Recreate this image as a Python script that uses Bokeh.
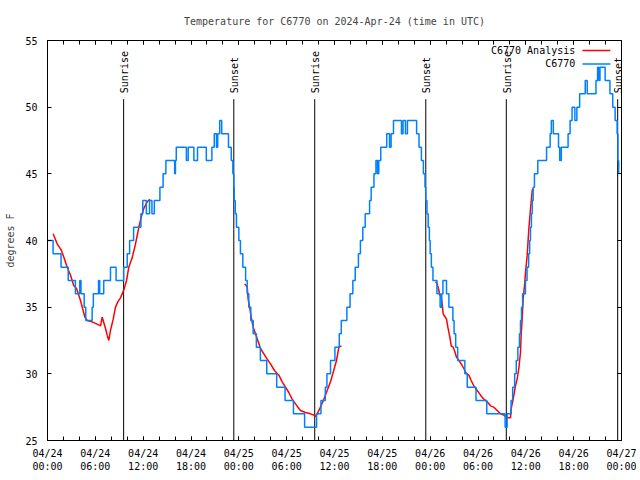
import math
from bokeh.plotting import figure
from bokeh.models import Range1d, FixedTicker, LinearAxis
from bokeh.core.properties import value
from bokeh.embed import file_html
from bokeh.resources import INLINE

FONT = "DejaVu Sans Mono"

# hours since 2024-04-24 00:00 UTC
x_tick_hours = [0, 6, 12, 18, 24, 30, 36, 42, 48, 54, 60, 66, 72]
x_tick_labels = ["04/24\n00:00", "04/24\n06:00", "04/24\n12:00", "04/24\n18:00",
                 "04/25\n00:00", "04/25\n06:00", "04/25\n12:00", "04/25\n18:00",
                 "04/26\n00:00", "04/26\n06:00", "04/26\n12:00", "04/26\n18:00",
                 "04/27\n00:00"]
y_ticks = [25, 30, 35, 40, 45, 50, 55]

# observed station temperature (step changes): start hour, degrees F
obs_hours = [0.0, 0.7, 1.7, 2.6, 3.5, 4.05, 4.2, 4.6, 4.8, 5.6, 5.75, 6.4, 6.55, 7.05, 7.9,
             8.6, 9.55, 10.0, 10.3, 10.8, 11.72, 11.95, 12.4, 12.8, 13.1, 13.4, 14.1, 14.5,
             14.85, 15.95, 16.05, 16.15, 17.42, 17.65, 18.36, 18.82, 19.92, 20.62, 20.92,
             21.2, 21.35, 21.6, 21.85, 22.7, 23.05, 23.25, 23.37, 23.42, 23.55, 23.7, 24.0,
             24.2, 24.5, 24.85, 25.05, 25.25, 25.5, 25.8, 26.2, 26.7, 27.5, 28.75, 29.8,
             30.85, 32.25, 33.75, 34.3, 34.85, 35.05, 35.5, 36.05, 36.6, 36.85, 37.55, 37.95,
             38.3, 38.6, 39.0, 39.25, 39.55, 39.85, 40.4, 40.6, 40.95, 41.2, 41.4, 41.55,
             41.8, 42.55, 42.9, 43.1, 43.4, 44.4, 44.6, 44.9, 45.15, 46.3, 46.6, 46.9, 47.15,
             47.35, 47.45, 47.6, 47.75, 47.9, 48.0, 48.15, 48.35, 48.85, 49.25, 49.45, 49.6,
             50.05, 50.35, 50.85, 51.0, 51.2, 51.45, 52.35, 52.65, 53.75, 55.1, 57.4, 57.65,
             58.15, 58.35, 58.6, 58.8, 59.0, 59.2, 59.33, 59.46, 59.6, 59.95, 60.15, 60.35,
             60.48, 60.58, 60.7, 60.8, 60.92, 61.08, 61.5, 62.6, 63.05, 63.2, 63.45, 64.1,
             64.25, 64.45, 65.3, 65.55, 65.8, 66.15, 66.4, 66.75, 67.45, 67.7, 68.8, 69.0,
             69.15, 69.3, 69.95, 70.55, 70.9, 71.2, 71.45, 71.55, 71.65, 71.7]
obs_temps = [40, 39, 38, 37, 36, 37, 36, 35, 34, 35, 36, 37, 36, 37, 38,
             37, 38, 39, 40, 41, 42, 43, 42, 43, 42, 43, 44, 45,
             46, 45, 46, 47, 46, 47, 46, 47, 46, 47, 48,
             47, 48, 49, 48, 47, 46, 45, 44, 43, 42, 41, 40,
             39, 38, 37, 36, 35, 34, 33, 32, 31, 30, 29, 28,
             27, 26, 27, 28, 29, 30, 31, 32, 33, 34, 35, 36,
             37, 38, 39, 40, 41, 42, 43, 44, 45, 46, 45, 46,
             47, 48, 47, 48, 49, 48, 49, 48, 49, 48, 47, 46, 45,
             44, 43, 42, 41, 40, 39, 38, 37, 36, 35, 36, 37,
             36, 35, 34, 33, 32, 31, 30, 29, 28, 27, 26, 27,
             28, 29, 30, 31, 32, 33, 34, 35, 36, 37, 38, 39,
             40, 41, 42, 43, 44, 45, 46, 47, 48, 49, 48, 47,
             46, 47, 48, 49, 50, 49, 50, 51, 52, 51, 52, 53,
             52, 53, 52, 51, 50, 49, 48, 46, 45, 45]

# analysis temperature (three windows, NaN = gap)
nan = float("nan")
ana_hours = [0.71, 1.21, 1.71, 2.05, 2.47, 2.89, 3.3, 3.64, 4.14, 4.47, 4.68, 4.98, 5.6,
             6.15, 6.65, 6.86, 7.28, 7.49, 7.69, 7.9, 8.24, 8.53, 8.82, 9.16, 9.58, 9.91,
             10.2, 10.62, 11.04, 11.46, 11.75, 12.08, 12.5, 12.84,
             18.0,
             24.75, 25.05, 25.17, 25.38, 25.55, 25.8, 26.09, 26.38, 26.72, 27.14, 27.55,
             27.97, 28.47, 29.02, 29.44, 29.85, 30.27, 30.69, 31.11, 31.53, 31.74, 32.36,
             32.99, 33.41, 33.62, 33.83, 34.24, 34.66, 35.08, 35.5, 35.9, 36.25, 36.55, 36.88,
             42.0,
             48.67, 48.88, 49.09, 49.21, 49.38, 49.51, 49.63, 49.84, 50.05, 50.22, 50.47,
             50.64, 50.89, 51.05, 51.3, 51.6, 51.89, 52.22, 52.56, 52.85, 53.14, 53.48, 53.9,
             54.32, 54.73, 55.15, 55.57, 55.99, 56.41, 56.82, 57.24, 57.58, 57.87, 58.08,
             58.16, 58.41, 58.7, 58.91, 59.12, 59.33, 59.41, 59.54, 59.66, 59.83, 59.96,
             60.17, 60.38, 60.59, 60.8, 60.88]
ana_temps = [40.5, 39.75, 39.3, 38.75, 38.0, 37.4, 36.6, 36.4, 35.5, 34.75, 34.25, 34.0, 33.9,
             33.75, 33.6, 34.25, 33.4, 32.9, 32.5, 33.25, 34.1, 35.0, 35.4, 35.7, 36.3, 37.0,
             38.0, 38.7, 39.75, 41.0, 41.75, 42.4, 42.9, 43.1,
             nan,
             36.75, 36.5, 35.6, 34.9, 34.25, 33.5, 33.0, 32.5, 31.9, 31.5, 31.1,
             30.75, 30.25, 29.9, 29.4, 29.0, 28.6, 28.1, 27.75, 27.4, 27.25, 27.1,
             27.0, 26.9, 26.8, 27.0, 27.5, 28.1, 28.75, 29.4, 30.25, 31.0, 32.0, 32.1,
             nan,
             36.9, 36.75, 36.25, 35.9, 35.75, 35.25, 34.5, 34.3, 34.1, 33.5, 32.75,
             32.1, 32.0, 31.75, 31.25, 31.0, 30.75, 30.4, 30.0, 29.9, 29.5, 29.1, 28.75,
             28.4, 28.1, 27.9, 27.6, 27.5, 27.25, 27.0, 26.9, 26.75, 26.7, 26.7,
             27.4, 28.1, 29.1, 29.6, 30.4, 31.6, 32.9, 34.1, 35.6, 36.6, 37.6,
             38.9, 40.9, 42.4, 43.75, 43.9]

sun_hours = [9.55, 23.37, 33.52, 47.45, 57.55, 71.52]
sun_names = ["Sunrise", "Sunset", "Sunrise", "Sunset", "Sunrise", "Sunset"]

series_names = ["C6770 Analysis", "C6770"]
series_colors = ["#ff0000", "#0080ff"]

p = figure(frame_width=574, frame_height=400,
           min_border_left=47, min_border_right=15, min_border_top=40, min_border_bottom=36,
           x_range=Range1d(0, 72), y_range=Range1d(25, 55),
           output_backend="svg", toolbar_location=None,
           title="Temperature for C6770 on 2024-Apr-24 (time in UTC)")
p.title.align = "center"
p.title.text_font = FONT
p.title.text_font_size = "10px"
p.title.text_font_style = "normal"
p.title.standoff = 27
p.grid.visible = False
p.outline_line_color = "black"
p.outline_line_alpha = 1
p.background_fill_color = "white"
p.border_fill_color = "white"

xt = FixedTicker(ticks=x_tick_hours, minor_ticks=list(range(0, 73, 2)))
yt = FixedTicker(ticks=y_ticks, minor_ticks=[])

def style_axis(ax, labels=True):
    ax.axis_line_color = "black"
    ax.major_tick_line_color = "black"
    ax.minor_tick_line_color = "black"
    ax.major_tick_in = 4
    ax.major_tick_out = 0
    ax.minor_tick_in = 4
    ax.minor_tick_out = 0
    ax.major_label_text_font = FONT
    if labels:
        ax.major_label_text_font_size = "10px"
        ax.major_label_text_color = "black"
    else:
        ax.major_label_text_font_size = "1px"
        ax.major_label_text_color = None
        ax.major_label_standoff = 0

p.xaxis.ticker = xt
p.xaxis.major_label_overrides = {h: lab for h, lab in zip(x_tick_hours, x_tick_labels)}
style_axis(p.xaxis[0])
p.xaxis.major_label_standoff = 7
p.yaxis.ticker = yt
style_axis(p.yaxis[0])
p.yaxis.major_label_standoff = 10
p.yaxis.axis_label = "degrees F"
p.yaxis.axis_label_text_font = FONT
p.yaxis.axis_label_text_font_size = "10px"
p.yaxis.axis_label_text_font_style = "normal"
p.yaxis.axis_label_standoff = 6

top = LinearAxis(ticker=xt)
style_axis(top, labels=False)
p.add_layout(top, "above")
right = LinearAxis(ticker=yt)
style_axis(right, labels=False)
p.add_layout(right, "right")

# sunrise / sunset markers
p.segment(x0=sun_hours, y0=[25] * 6, x1=sun_hours, y1=[50.6] * 6, line_color="black", line_width=1)
p.text(x=sun_hours, y=[51.05] * 6, text=sun_names, angle=math.pi / 2,
       text_align="left", text_baseline="middle", text_font=value(FONT),
       text_font_size="10px", text_color="black", x_offset=1)

# data
p.line(ana_hours, ana_temps, line_color=series_colors[0], line_width=1.5)
p.step(obs_hours, obs_temps, mode="after", line_color=series_colors[1], line_width=1.5)

# key (top right, labels left of samples)
key_y = [54.25, 53.24]
p.text(x=[66.2, 66.2], y=key_y, text=series_names, text_align="right", text_baseline="middle",
       text_font=value(FONT), text_font_size="10px", text_color="black")
p.segment(x0=[67.1, 67.1], y0=key_y, x1=[70.6, 70.6], y1=key_y,
          line_color=series_colors, line_width=1.5)

open("out.html", "w").write(file_html(p, INLINE))
